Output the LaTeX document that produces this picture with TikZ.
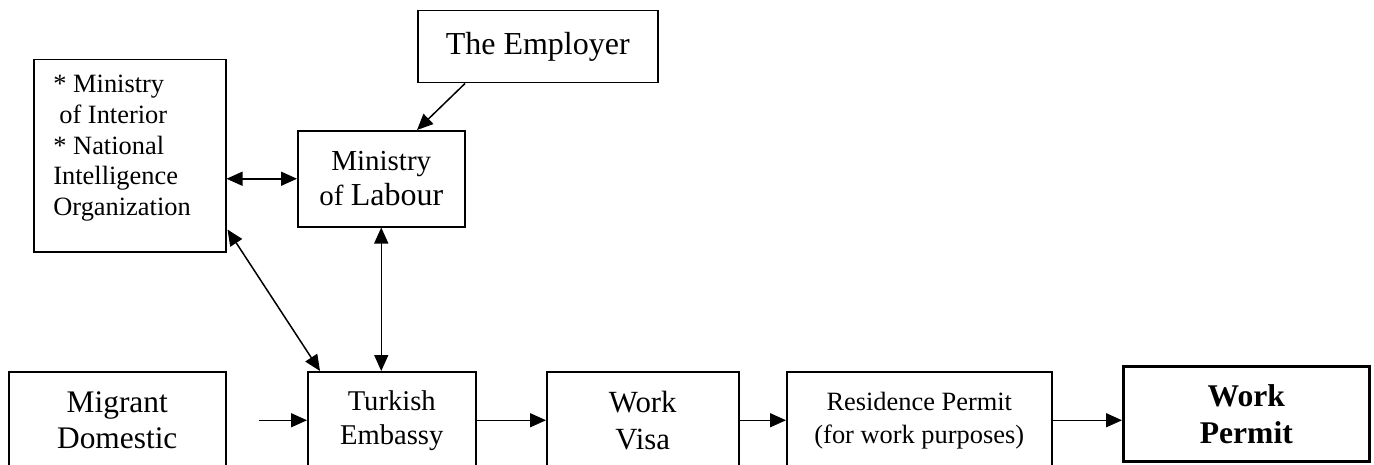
\documentclass[tikz,border=0pt]{standalone}
\usepackage{fontspec}
\setmainfont{Liberation Serif}
\usetikzlibrary{arrows.meta,calc}
\begin{document}
\begin{tikzpicture}[x=0.5pt,y=-0.5pt,
  box/.style={draw,line width=0.75pt,inner sep=0pt,align=center,anchor=north west},
  txt/.style={inner sep=0pt,align=left,anchor=north west},
  conn/.style={line width=0.75pt,-{Triangle[length=8pt,width=7pt]}},
  dconn/.style={line width=0.75pt,{Triangle[length=8pt,width=7pt]}-{Triangle[length=8pt,width=7pt]}}]
\useasboundingbox (0,0) rectangle (1374,465);
\clip (0,0) rectangle (1374,465);
\node[box,minimum width=120pt,minimum height=36pt,font=\fontsize{16}{19}\selectfont] (emp) at (417,10) {The Employer};
\node[box,minimum width=96pt,minimum height=96pt] (moi) at (33,59) {};
\node[txt,font=\fontsize{13.2}{15.3}\selectfont] (moitext) at (53,75) {{*} Ministry\\\hspace*{3pt}of Interior\\{*} National\\Intelligence\\Organization};
\node[box,minimum width=83.5pt,minimum height=48pt,font=\fontsize{14.5}{17.5}\selectfont] (mol) at (297,130) {Ministry\\of {\fontsize{16}{17.5}\selectfont Labour}};
\node[box,minimum width=108.5pt,minimum height=48.5pt,font=\fontsize{15.7}{18}\selectfont] (mig) at (8,371) {Migrant\\Domestic};
\node[box,minimum width=84pt,minimum height=48.5pt,font=\fontsize{14.3}{17}\selectfont] (tur) at (307,371) {Turkish\\Embassy};
\node[box,minimum width=96pt,minimum height=48.5pt,font=\fontsize{15.4}{18.5}\selectfont] (vis) at (546,371) {Work\\Visa};
\node[box,minimum width=132.5pt,minimum height=48.5pt,font=\fontsize{13.2}{16.5}\selectfont] (res) at (786,371) {Residence Permit\\(for work purposes)};
\node[box,line width=1.3pt,minimum width=123pt,minimum height=47.5pt,font=\fontsize{15.8}{18.5}\selectfont\bfseries] (wp) at (1122,365) {Work\\Permit};
\coordinate (migout) at ($(mig.east)+(32,0)$);
\draw[conn] ($(emp.south west)+(48,0)$) -- ($(mol.north west)+(120,0)$);
\draw[dconn] (mol.west) -- (mol.west -| moi.east);
\draw[dconn] ($(moi.south east)+(1,-23)$) -- ($(tur.north west)+(13,0)$);
\draw[dconn] (mol.south) -- (mol.south |- tur.north);
\draw[conn] (migout) -- (tur.west);
\draw[conn] (tur.east) -- (vis.west);
\draw[conn] (vis.east) -- (res.west);
\draw[conn] (res.east) -- (res.east -| wp.west);
\end{tikzpicture}
\end{document}
